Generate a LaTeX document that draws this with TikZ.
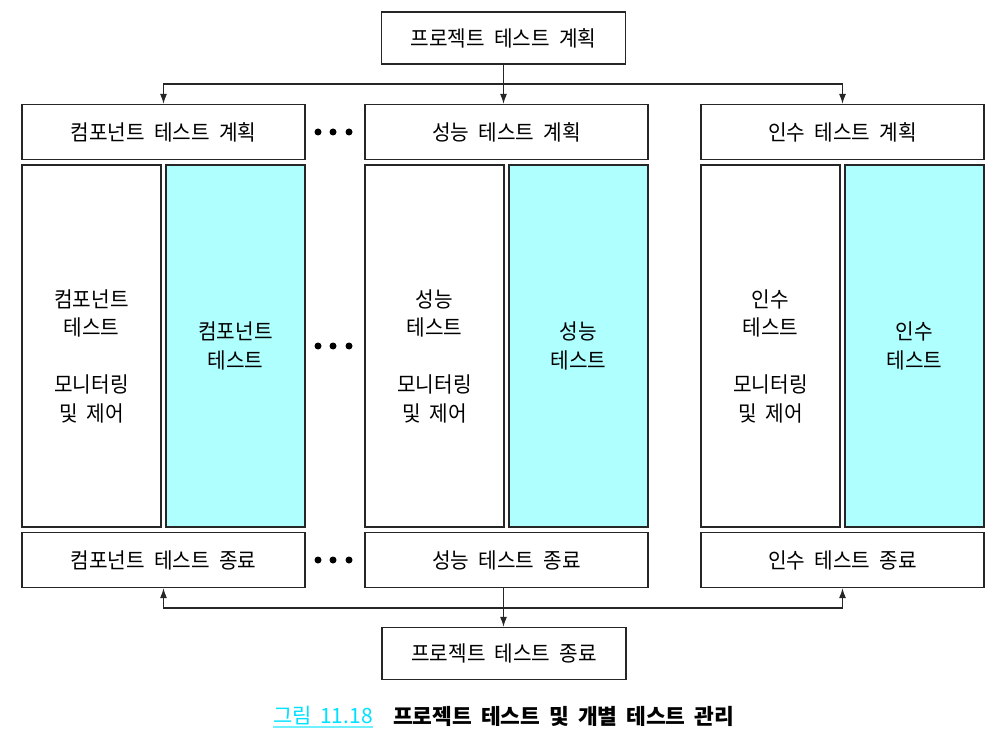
\documentclass[tikz,border=0pt]{standalone}
\usepackage{fontspec}
\setmainfont{Noto Sans CJK KR}[FakeStretch=0.94, WordSpace=2.0]
\newfontfamily\capfont{Noto Sans CJK KR}[FakeStretch=1.0, WordSpace=3.0]
\newfontfamily\capnumfont{Noto Sans CJK KR}[FakeStretch=1.0, WordSpace=1.8]
\usepackage{tikz}
\usetikzlibrary{arrows.meta, positioning, calc}

\definecolor{testcyan}{RGB}{175,255,255}
\definecolor{capcyan}{RGB}{0,225,255}
\definecolor{caplinecyan}{RGB}{110,240,255}

\tikzset{
    box/.style={draw=black!85, line width=1.2pt, fill=white, inner sep=0pt,
        font=\fontsize{21.5}{28.5}\selectfont, align=center},
    planbox/.style={box, minimum width=283pt, minimum height=55pt},
    topbox/.style={box, minimum width=244pt, minimum height=52pt},
    subbox/.style={box, minimum width=139pt, minimum height=362pt},
    runbox/.style={subbox, fill=testcyan},
    boxtext/.style={inner sep=0pt, font=\fontsize{21.5}{28.5}\selectfont, align=center},
    link/.style={draw=black!85, line width=1.2pt},
    dot/.style={circle, fill=black, inner sep=0pt, minimum size=7pt}
}

\begin{document}
\begin{tikzpicture}[x=1pt, y=-1pt, >={Latex[length=10pt,width=7pt]}]
\useasboundingbox (0,0) rectangle (1007,738);

% project level
\node[topbox] (projplan) at (503.5,38) {프로젝트 테스트 계획};
\node[topbox] (projend) at (504,653.5) {프로젝트 테스트 종료};

% one column per test kind
\foreach \n/\x/\t in {c/163.5/컴포넌트, p/506.5/성능, a/842.5/인수} {
    \node[planbox] (plan\n) at (\x,132) {\t\ 테스트 계획};
    \node[subbox] (mon\n) at (\x-72,346) {};
    \node[boxtext] (montext\n) at (\x-72,356) {\t\\테스트\\[28.5pt]모니터링\\및 제어};
    \node[runbox] (run\n) at (\x+72,346) {\t\\테스트};
    \node[planbox] (end\n) at (\x,560) {\t\ 테스트 종료};
}

% dots between the columns
\foreach \y in {132,346,560} {
    \foreach \x in {318,333,349} {
        \node[dot] at (\x,\y) {};
    }
}

% arrows
\coordinate (split) at (503.5,84);
\coordinate (join) at (503.5,608);
\draw[link,->] (projplan.south -| split) -- (split |- planp.north);
\draw[link,->] (split) -| (planc.north);
\draw[link,->] (split) -| (plana.north);
\draw[link] (endp.south -| join) -- (join);
\draw[link,->] (join) -| (endc.south);
\draw[link,->] (join) -| (enda.south);
\draw[link,->] (join) -- (join |- projend.north);

% caption
\node[anchor=east, inner sep=0pt, text=capcyan, font=\capnumfont\fontsize{21}{22}\selectfont]
    (capnum) at (373,716) {그림 11.18};
\node[anchor=west, inner sep=0pt, font=\capfont\bfseries\fontsize{21.5}{22}\selectfont]
    (captext) at (393,716) {프로젝트 테스트 및 개별 테스트 관리};
\draw[caplinecyan, line width=1.5pt] (capnum.west |- 0,727) -- (capnum.east |- 0,727);
\end{tikzpicture}
\end{document}
